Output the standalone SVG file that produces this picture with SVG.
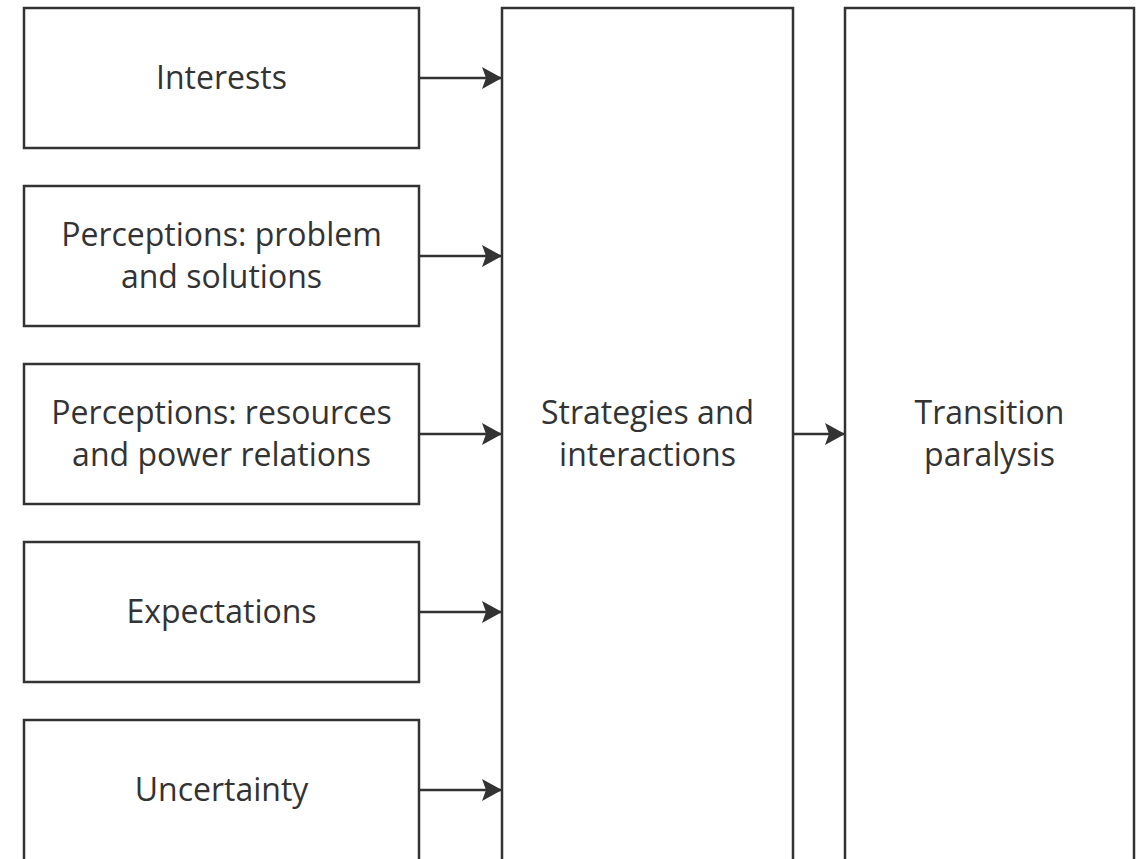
<svg xmlns="http://www.w3.org/2000/svg" width="1138" height="859" viewBox="0 0 1138 859">
<defs>
<style>
.box{fill:#fff;stroke:#333;stroke-width:2.5}
.t{font-family:"Open Sans","Noto Sans",sans-serif;font-size:32px;fill:#333;text-anchor:middle}
.c{stroke:#333;stroke-width:2.5;fill:none}
</style>
<marker id="ah" viewBox="0 0 20 24" refX="20" refY="12" markerWidth="20" markerHeight="24" markerUnits="userSpaceOnUse" orient="auto">
<path d="M0,1 L20,12 L0,23 L4,12 Z" fill="#333"/>
</marker>
</defs>
<rect width="1138" height="859" fill="#fff"/>
<g id="interests"><rect class="box" x="24" y="8" width="395" height="140"/><text class="t" x="221.5" y="89">Interests</text></g>
<g id="perc-problem"><rect class="box" x="24" y="186" width="395" height="140"/><text class="t" x="221.5" y="246">Perceptions: problem</text><text class="t" x="221.5" y="288">and solutions</text></g>
<g id="perc-resources"><rect class="box" x="24" y="364" width="395" height="140"/><text class="t" x="221.5" y="424">Perceptions: resources</text><text class="t" x="221.5" y="466">and power relations</text></g>
<g id="expectations"><rect class="box" x="24" y="542" width="395" height="140"/><text class="t" x="221.5" y="623">Expectations</text></g>
<g id="uncertainty"><rect class="box" x="24" y="720" width="395" height="160"/><text class="t" x="221.5" y="801">Uncertainty</text></g>
<g id="strategies"><rect class="box" x="502" y="8" width="291" height="880"/><text class="t" x="647.5" y="424">Strategies and</text><text class="t" x="647.5" y="466">interactions</text></g>
<g id="paralysis"><rect class="box" x="845" y="8" width="289" height="880"/><text class="t" x="989.5" y="424">Transition</text><text class="t" x="989.5" y="466">paralysis</text></g>
<g id="connectors">
<line class="c" x1="419" y1="78" x2="502" y2="78" marker-end="url(#ah)"/>
<line class="c" x1="419" y1="256" x2="502" y2="256" marker-end="url(#ah)"/>
<line class="c" x1="419" y1="434" x2="502" y2="434" marker-end="url(#ah)"/>
<line class="c" x1="419" y1="612" x2="502" y2="612" marker-end="url(#ah)"/>
<line class="c" x1="419" y1="790" x2="502" y2="790" marker-end="url(#ah)"/>
<line class="c" x1="793" y1="434" x2="845" y2="434" marker-end="url(#ah)"/>
</g>
</svg>
